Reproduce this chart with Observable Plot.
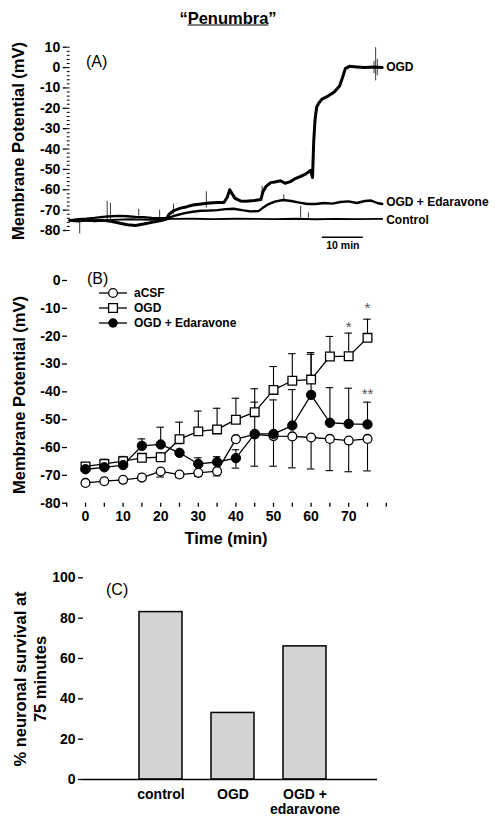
<!DOCTYPE html>
<html><head><meta charset="utf-8">
<script src="https://cdn.jsdelivr.net/npm/d3@7"></script>
<script src="https://cdn.jsdelivr.net/npm/@observablehq/plot@0.6"></script>
<style>
body{margin:0;background:#fff;font-family:"Liberation Sans",Arial,sans-serif;color:#000;}
#page{position:relative;width:499px;height:828px;overflow:hidden;background:#fff;}
.abs{position:absolute;white-space:nowrap;}
.ctr{position:absolute;white-space:nowrap;transform:translate(-50%,-50%);}
.rot{position:absolute;white-space:nowrap;transform:translate(-50%,-50%) rotate(-90deg);font-weight:bold;font-size:16.5px;}
.panel{position:absolute;left:0;}
.tag{position:absolute;white-space:nowrap;transform:translateY(-50%);font-size:16px;}
.leg{position:absolute;left:98px;height:14px;display:flex;align-items:center;transform:translateY(-50%);font-weight:bold;font-size:12px;}
.leg svg{margin-right:6px;}
</style></head>
<body><div id="page">
  <div class="ctr" style="left:228px;top:18px;font-weight:bold;font-size:16.5px;">“<span style="text-decoration:underline;">Penumbra</span>”</div>
  <div class="panel" id="pa" style="top:30px;"></div>
  <div class="panel" id="pb" style="top:260px;"></div>
  <div class="panel" id="pc" style="top:560px;"></div>
  <div class="rot" style="left:18px;top:141px;">Membrane Potential (mV)</div>
  <div class="rot" style="left:19px;top:395px;">Membrane Potential (mV)</div>
  <div class="ctr" style="left:226px;top:538px;font-weight:bold;font-size:16.5px;">Time (min)</div>
  <div class="rot" style="left:20px;top:679px;font-size:16.5px;">% neuronal survival at</div>
  <div class="rot" style="left:40px;top:679px;font-size:16.5px;">75 minutes</div>
  <div class="tag" style="left:86px;top:62px;">(A)</div>
  <div class="tag" style="left:87px;top:279px;">(B)</div>
  <div class="tag" style="left:106px;top:590px;">(C)</div>
  <div id="legend"></div>
</div>
<script>
// ---------- Panel A : raw traces (time in min, membrane potential in mV) ----------
const ogdTrace = [[0,-75],[2,-75.3],[4,-74.8],[6,-75.2],[8,-75],[10,-75.5],[12,-76.3],[14,-77.2],[16,-77.5],[18,-76.8],[20,-76],[22,-75.2],[23.5,-74.5],[24.2,-72],[25.4,-70.2],[27,-69],[28.6,-68.3],[30,-67.5],[32,-67],[34,-66.5],[36,-66.3],[37.6,-66.2],[38.4,-63.7],[39,-60],[39.6,-62],[40.3,-64.2],[41.6,-65.5],[43,-65.6],[45,-65.3],[46.6,-64.8],[47.1,-61],[47.8,-58.5],[49,-56.5],[50,-56.2],[51.4,-55.6],[52.5,-56.8],[53.8,-56],[55,-54.5],[56.3,-53.4],[57.5,-52.3],[58.7,-50.5],[59.2,-54],[59.5,-36],[59.8,-26],[60.2,-19.5],[60.7,-17.5],[61.5,-15.5],[63,-14],[64.5,-12],[65.8,-9],[66.5,-5],[67.2,-0.5],[68.2,0.6],[70,0.3],[72,0],[74,0.3],[76.2,0]];
const edaTrace = [[0,-75],[2,-74.5],[4,-74.2],[6,-73.8],[8,-73.3],[10,-73],[12,-72.8],[14,-73],[16,-73.3],[18,-73.5],[20,-73.8],[22,-74],[24,-73.8],[26,-72.5],[28,-71.5],[30,-70.8],[32,-70.3],[34,-70.2],[36,-70],[38,-69.5],[40,-69.3],[42,-70],[44,-70.6],[46,-70.5],[47,-69],[48.5,-67],[50,-65.8],[52,-65],[54,-65.5],[56,-66.3],[58,-67],[60,-67],[62,-66.5],[64,-66.8],[66,-66],[68,-65.7],[70,-66.5],[72,-65.5],[73.5,-65.3],[75,-66.5],[76.2,-67]];
const ctrlTrace = [[0,-75],[5,-75.2],[10,-74.8],[15,-74.5],[20,-74.8],[25,-74.3],[30,-74.2],[35,-74.4],[40,-74.2],[45,-74.3],[50,-74.4],[55,-74.2],[60,-74.5],[65,-74.3],[70,-74.4],[76.2,-74.3]];
// brief noise spikes: [time, low, high]
const spikes = [[2.4,-81.7,-75],[9.1,-75,-65.7],[9.9,-75,-66.7],[16.8,-73,-69.6],[21.9,-74,-70],[25.3,-72,-67],[33.3,-69,-61],[46.9,-64,-58.3],[52.2,-65,-62.4],[56.3,-74,-68.1],[58.2,-74,-71.4],[74.6,-6.5,9.8],[74.2,-3,3],[75,-4,4]];
const traceLabels = ["OGD","OGD + Edaravone","Control"];
const traceLabelV = [0,-66.2,-74.8];
const scaleBarStart = 61.6, scaleBarLen = 10, scaleBarV = -83.3;
const majorTicksA = d3.range(-80, 11, 10);
const minorTicksA = d3.range(-80, 11, 2);

// ---------- Panel B : mean membrane potential ----------
const times = [0,5,10,15,20,25,30,35,40,45,50,55,60,65,70,75];
const aCSF   = [-72.7,-72.1,-71.6,-70.8,-68.6,-69.7,-69.1,-68.5,-57.0,-55.3,-55.9,-56.0,-56.4,-56.9,-57.5,-56.9];
const aCSFErrDown = [0.6,0.8,0.8,0.9,2.0,1.1,1.2,1.7,0,11.4,10.8,11.3,11.3,11.4,11.2,11.5];
const OGD    = [-66.8,-65.9,-64.9,-63.7,-63.5,-57.0,-54.2,-53.5,-50.0,-47.3,-39.3,-36.0,-35.6,-27.3,-27.2,-20.6];
const OGDErrUp = [1.2,1.7,1.7,1.4,1.5,6.1,7.3,7.6,7.7,8.4,8.4,9.7,9.7,7.2,8.3,6.7];
const OGDEd  = [-67.8,-67.1,-66.3,-59.4,-58.9,-61.9,-65.9,-65.2,-63.8,-55.1,-55.1,-52.1,-41.1,-51.1,-51.5,-51.7];
const OGDEdErrUp = [0.8,1.0,1.0,2.5,6.2,0,2.2,1.9,3.0,11.4,12.2,12.9,14.6,12.6,12.8,8.0];
const OGDEdErrDown = [0.8,0.8,0.8,0,0,0,0,0,3.6,0,0,0,0,0,0,0];
const starT = [70,75,75];
const starV = [-15.2,-8.4,-39.5];
const starText = ["*","*","**"];
const xTicksB = d3.range(-5, 81, 5);
const yTicksB = d3.range(-80, 1, 10);
const legendNames = ["aCSF","OGD","OGD + Edaravone"];

// ---------- Panel C : survival ----------
const groups = ["control","OGD","OGD + edaravone"];
const groupLabels = ["control","OGD","OGD +\nedaravone"];
const survival = [83,33,66];
const yTicksC = d3.range(0, 101, 20);

const FONT = '"Liberation Sans", Arial, sans-serif';
const baseStyle = {fontFamily: FONT, background: "transparent", overflow: "visible", color: "#000"};
const fmt = d => String(d); // hyphen-minus like the original

// ----- Panel A -----
const tv = d => ({t: d[0], v: d[1]});
const plotA = Plot.plot({
  width: 499, height: 225,
  marginLeft: 66.7, marginRight: 117.3, marginTop: 16.7, marginBottom: 25,
  style: baseStyle,
  x: {domain: [-0.65, 76.2], axis: null},
  y: {domain: [-80, 10], axis: null},
  marks: [
    Plot.axisY({ticks: minorTicksA, tickSize: 3, dx: 3, tickFormat: () => "", label: null, strokeWidth: 1}),
    Plot.axisY({ticks: majorTicksA, tickSize: 4, tickPadding: 3, fontSize: 14, fontWeight: "bold", line: true, label: null, strokeWidth: 1.3, tickFormat: fmt}),
    Plot.ruleX(spikes, {x: d => d[0], y1: d => d[1], y2: d => d[2], stroke: "#222", strokeWidth: 0.9}),
    Plot.line(ctrlTrace.map(tv), {x: "t", y: "v", stroke: "#000", strokeWidth: 1.9}),
    Plot.line(edaTrace.map(tv), {x: "t", y: "v", stroke: "#000", strokeWidth: 2.4}),
    Plot.line(ogdTrace.map(tv), {x: "t", y: "v", stroke: "#000", strokeWidth: 3}),
    Plot.text(traceLabels, {x: 76.2, y: (d, i) => traceLabelV[i], text: d => d, textAnchor: "start", dx: 4, fontSize: 12, fontWeight: "bold"}),
    Plot.ruleY([scaleBarV], {x1: scaleBarStart, x2: scaleBarStart + scaleBarLen, y: d => d, strokeWidth: 1.5}),
    Plot.text(["10 min"], {x: scaleBarStart + scaleBarLen / 2, y: scaleBarV, dy: 8, text: d => d, fontSize: 10.5, fontWeight: "bold"})
  ]
});
document.getElementById("pa").appendChild(plotA);

// ----- Panel B -----
const errs = [];
times.forEach((t, i) => {
  if (aCSFErrDown[i] > 0) errs.push({t, y1: aCSF[i], y2: aCSF[i] - aCSFErrDown[i]});
  if (OGDErrUp[i] > 0) errs.push({t, y1: OGD[i], y2: OGD[i] + OGDErrUp[i]});
  if (OGDEdErrUp[i] > 0) errs.push({t, y1: OGDEd[i], y2: OGDEd[i] + OGDEdErrUp[i]});
  if (OGDEdErrDown[i] > 0) errs.push({t, y1: OGDEd[i], y2: OGDEd[i] - OGDEdErrDown[i]});
});
const plotB = Plot.plot({
  width: 499, height: 290,
  marginLeft: 67, marginRight: 112, marginTop: 20, marginBottom: 47.3,
  style: baseStyle,
  x: {domain: [-4.79, 80.32], axis: null},
  y: {domain: [-80, 0], axis: null},
  marks: [
    Plot.axisY({ticks: yTicksB, tickSize: 5, tickPadding: 2, fontSize: 14, fontWeight: "bold", line: true, label: null, strokeWidth: 1.3, tickFormat: fmt}),
    Plot.axisX({ticks: xTicksB, tickSize: 4, tickPadding: 4, fontSize: 14, fontWeight: "bold", line: true, label: null, strokeWidth: 1.3,
      tickFormat: d => (d % 10 === 0 && d >= 0 && d <= 70) ? String(d) : ""}),
    Plot.ruleX(errs, {x: "t", y1: "y1", y2: "y2", strokeWidth: 1.1}),
    Plot.ruleY(errs, {x1: d => d.t - 1, x2: d => d.t + 1, y: "y2", strokeWidth: 1.1}),
    Plot.line(times, {x: d => d, y: (d, i) => aCSF[i], strokeWidth: 1.3}),
    Plot.line(times, {x: d => d, y: (d, i) => OGD[i], strokeWidth: 1.3}),
    Plot.line(times, {x: d => d, y: (d, i) => OGDEd[i], strokeWidth: 1.3}),
    Plot.dot(times, {x: d => d, y: (d, i) => aCSF[i], symbol: "circle", r: 4.4, fill: "#fff", stroke: "#000", strokeWidth: 1.3}),
    Plot.dot(times, {x: d => d, y: (d, i) => OGD[i], symbol: "square", r: 4.9, fill: "#fff", stroke: "#000", strokeWidth: 1.3}),
    Plot.dot(times, {x: d => d, y: (d, i) => OGDEd[i], symbol: "circle", r: 4.7, fill: "#000", stroke: "#000", strokeWidth: 1}),
    Plot.text(starText, {x: (d, i) => starT[i], y: (d, i) => starV[i], text: d => d, fontSize: 15, fill: "#555", dy: 4})
  ]
});
document.getElementById("pb").appendChild(plotB);

// legend for B (HTML)
const legendRowsY = [293.3, 308.3, 323.3];
const legendSym = [
  '<circle cx="15" cy="7" r="4.4" fill="#fff" stroke="#000" stroke-width="1.3"/>',
  '<rect x="10.6" y="2.6" width="8.8" height="8.8" fill="#fff" stroke="#000" stroke-width="1.3"/>',
  '<circle cx="15" cy="7" r="4.7" fill="#000"/>'
];
const legEl = document.getElementById("legend");
legendNames.forEach((name, i) => {
  const row = document.createElement("div");
  row.className = "leg";
  row.style.top = legendRowsY[i] + "px";
  row.innerHTML = '<svg width="30" height="14"><line x1="1" y1="7" x2="29" y2="7" stroke="#000" stroke-width="1.3"/>' + legendSym[i] + '</svg><span>' + name + '</span>';
  legEl.appendChild(row);
});

// ----- Panel C -----
const plotC = Plot.plot({
  width: 499, height: 268,
  marginLeft: 83, marginRight: 122, marginTop: 17.3, marginBottom: 49,
  style: baseStyle,
  x: {domain: groups, range: [125, 341], paddingInner: 0.4, paddingOuter: 0.2, axis: null},
  y: {domain: [0, 100], axis: null},
  marks: [
    Plot.barY(groups, {x: d => d, y: (d, i) => survival[i], fill: "#d3d3d3", stroke: "#000", strokeWidth: 1.5}),
    Plot.ruleY([0], {strokeWidth: 1.3}),
    Plot.axisY({ticks: yTicksC, tickSize: 5, tickPadding: 3, fontSize: 14, fontWeight: "bold", line: true, label: null, strokeWidth: 1.3, tickFormat: fmt}),
    Plot.axisX({tickSize: 0, tickPadding: 9, fontSize: 14, fontWeight: "bold", label: null, lineHeight: 1.08,
      tickFormat: d => groupLabels[groups.indexOf(d)]})
  ]
});
document.getElementById("pc").appendChild(plotC);
</script>
</body></html>
